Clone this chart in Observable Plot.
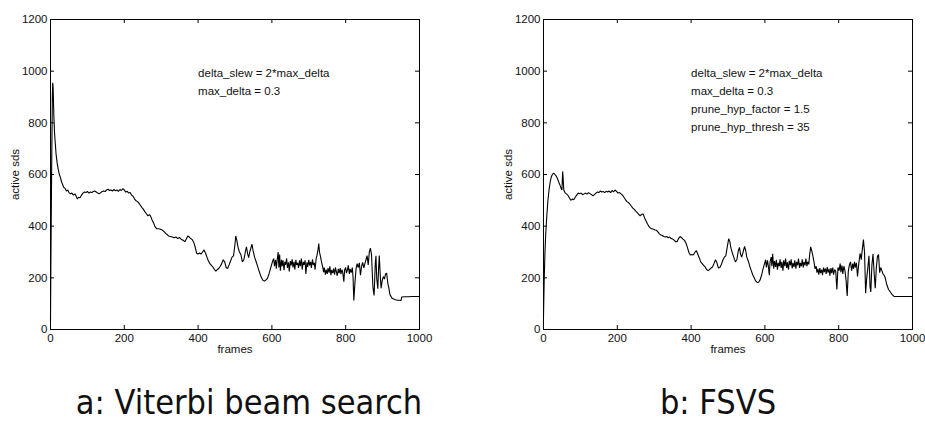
<!DOCTYPE html>
<html>
<head>
<meta charset="utf-8">
<script src="https://cdn.jsdelivr.net/npm/d3@7"></script>
<script src="https://cdn.jsdelivr.net/npm/@observablehq/plot@0.6"></script>
<style>
  html, body { margin: 0; padding: 0; background: #fff; }
  #page { position: relative; width: 925px; height: 421px; overflow: hidden; background: #fff; }
  #row { display: flex; flex-direction: row; }
  .cap { position: absolute; top: 385px; font-family: "DejaVu Sans Condensed", "DejaVu Sans", sans-serif; font-stretch: condensed; font-weight: 300; font-size: 34px; line-height: 1; color: #111; white-space: nowrap; transform: translateX(-50%); }
</style>
</head>
<body>
<div id="page">
  <div id="row"></div>
</div>
<script>
// ---- data ----
const xTicks = [0, 200, 400, 600, 800, 1000];
const yTicks = [0, 200, 400, 600, 800, 1000, 1200];
const xLabel = "frames";
const yLabel = "active sds";
const captions = ["a: Viterbi beam search", "b: FSVS"];
const viterbiParams = ["delta_slew = 2*max_delta", "max_delta = 0.3"];
const fsvsParams = ["delta_slew = 2*max_delta", "max_delta = 0.3", "prune_hyp_factor = 1.5", "prune_hyp_thresh = 35"];

const viterbiFrames = [0,1,3,5,6,7,9,11,13,15,18,21,24,27,30,33,36,40,43,47,50,54,58,62,66,70,73,76,80,84,88,92,96,100,104,108,112,116,120,124,128,132,136,140,144,148,152,156,160,164,168,172,176,180,184,188,192,196,200,204,208,212,216,220,224,228,232,236,240,244,248,252,256,260,264,268,271,275,280,284,288,293,298,303,307,312,316,320,325,330,335,340,345,350,355,360,364,368,372,376,380,384,388,392,396,400,404,408,412,416,420,424,428,432,436,440,444,448,452,456,460,464,468,472,476,480,484,488,492,496,500,502,505,508,512,516,520,524,528,531,534,537,540,544,546,549,553,556,560,564,568,572,576,580,584,588,592,596,600,603,
605,607,610,612,614,617,619,621,623,626,628,630,633,635,637,640,642,645,647,650,652,655,657,660,662,665,667,670,672,675,677,680,682,685,687,690,692,695,697,700,702,705,707,710,712,715,717,720,722,725,727,729,732,735,738,
740,742,745,747,750,752,755,757,760,762,765,767,770,772,775,777,780,782,785,787,790,792,795,797,800,802,805,807,810,812,815,818,820,822,825,828,831,834,837,840,843,846,849,852,855,858,861,864,867,870,872,874,877,880,882,884,887,889,891,894,896,899,902,905,908,911,914,917,920,925,930,935,940,945,950,952,960,970,980,990,1000];
const viterbiSds = [30,250,600,900,955,940,830,760,720,680,645,620,600,588,572,560,550,545,536,540,530,525,528,520,525,515,505,512,510,520,528,532,530,535,528,532,530,534,536,532,528,525,530,534,536,534,540,543,538,540,536,542,537,540,535,542,538,545,540,532,535,528,530,520,515,505,498,495,488,480,472,465,455,448,440,445,440,425,410,396,390,390,388,385,380,372,368,362,360,358,355,358,352,356,348,345,340,350,362,358,352,348,338,320,295,292,296,292,300,308,296,280,265,255,248,242,233,226,232,236,245,255,270,262,240,236,250,265,280,285,330,362,345,320,300,290,262,270,300,320,295,278,300,320,330,305,280,268,250,232,215,200,190,188,192,198,215,235,255,268,
275,245,270,235,265,300,240,290,228,270,245,268,230,262,250,275,238,260,225,265,248,272,240,262,232,270,250,258,238,268,245,275,232,262,250,268,215,260,242,270,248,262,238,272,250,258,232,275,285,310,333,300,280,258,240,
222,240,212,232,215,238,220,245,210,230,218,236,212,240,222,208,235,218,238,214,232,220,185,230,240,218,232,248,215,235,220,240,200,112,180,235,255,240,258,210,245,260,238,255,270,286,250,300,315,290,220,160,132,250,285,200,158,230,286,200,160,190,205,195,215,218,180,160,135,122,118,115,113,113,112,126,127,127,128,128,128];

const fsvsFrames = [0,2,4,6,9,12,15,18,21,24,27,30,33,36,39,42,45,48,50,51,52,53,55,58,62,66,70,74,78,82,86,90,94,98,102,106,110,114,118,122,126,130,134,138,142,146,150,154,158,162,166,170,174,178,182,186,190,194,198,202,206,210,214,218,222,226,230,234,238,242,246,250,254,258,262,266,270,274,278,282,286,290,294,298,302,306,310,314,318,322,326,330,334,338,342,346,350,354,358,362,366,370,374,378,382,386,390,394,398,402,406,410,414,418,422,426,430,434,438,442,446,450,454,458,462,466,470,474,478,482,486,490,494,498,502,505,508,512,516,520,524,528,531,534,537,541,545,548,551,555,559,563,567,571,575,579,583,587,591,595,599,602,
604,607,609,612,614,617,619,621,624,626,629,631,634,636,639,641,644,646,649,651,654,656,659,661,664,666,669,671,674,676,679,681,684,686,689,691,694,696,699,701,704,706,709,711,714,716,719,721,724,727,730,733,736,
739,741,744,746,749,751,754,756,759,761,764,766,769,771,774,776,779,781,784,786,789,792,795,798,801,804,806,809,811,814,817,820,823,826,829,832,835,838,840,843,845,848,851,854,858,861,864,867,870,873,876,879,882,885,887,890,893,896,899,902,905,908,911,914,917,920,923,926,930,935,940,945,950,960,970,980,990,1000];
const fsvsSds = [48,200,300,370,440,500,540,570,590,600,605,602,597,590,580,568,558,545,540,580,612,590,540,530,525,520,510,500,505,502,512,520,528,525,528,522,525,528,524,530,526,522,518,522,528,532,530,536,532,534,530,535,532,536,530,538,533,540,535,528,530,525,520,512,503,495,492,485,478,470,465,458,452,446,440,446,447,432,420,408,398,392,390,388,385,384,378,370,366,364,360,358,360,355,358,352,350,346,340,340,352,360,356,350,345,335,318,298,288,290,288,298,306,292,278,262,255,248,242,232,228,232,238,242,255,270,258,238,240,252,268,280,285,320,352,340,315,295,278,262,270,305,318,292,280,300,322,305,280,265,245,228,212,200,188,182,183,192,210,235,255,270,
240,268,248,210,262,280,245,293,235,265,242,270,232,258,245,272,238,262,228,268,245,275,238,260,232,266,248,272,236,258,242,268,235,262,248,275,238,258,245,272,240,262,248,275,245,262,252,285,320,305,285,262,235,
245,220,235,212,238,218,232,210,240,222,236,215,242,220,235,208,238,218,240,212,232,225,155,240,228,255,222,248,215,245,228,190,130,225,250,262,228,255,235,262,240,258,205,250,295,270,310,348,300,140,200,240,285,165,145,250,292,220,160,240,283,290,220,240,228,215,210,200,175,155,145,135,128,128,128,128,128,128];

// ---- drawing ----
const H = 365, MT = 19, MB = 36;
const tickLen = 4;
const fmt = d => String(d);

function panel(frames, sds, params, width, marginLeft, marginRight) {
  const data = frames.map((f, i) => ({frame: f, sds: sds[i]}));
  const fw = width - marginLeft - marginRight;
  const fh = H - MT - MB;
  return Plot.plot({
    width, height: H, marginLeft, marginRight, marginTop: MT, marginBottom: MB,
    x: {domain: [0, 1000]},
    y: {domain: [0, 1200]},
    style: {fontFamily: "'Liberation Sans', Arial, Helvetica, sans-serif", fontSize: "11.5px", color: "#000", background: "#fff", overflow: "visible"},
    marks: [
      Plot.axisX(xTicks, {tickSize: 0, tickPadding: 4, tickFormat: fmt, label: null, fontSize: 11.5, fill: "#111"}),
      Plot.axisY(yTicks, {tickSize: 0, tickPadding: 3, tickFormat: fmt, label: null, fontSize: 11.5, fill: "#111"}),
      Plot.tickX(xTicks, {x: d => d, insetTop: fh - tickLen, stroke: "#000", strokeWidth: 1}),
      Plot.tickX(xTicks, {x: d => d, insetBottom: fh - tickLen, stroke: "#000", strokeWidth: 1}),
      Plot.tickY(yTicks, {y: d => d, insetRight: fw - tickLen, stroke: "#000", strokeWidth: 1}),
      Plot.tickY(yTicks, {y: d => d, insetLeft: fw - tickLen, stroke: "#000", strokeWidth: 1}),
      Plot.line(data, {x: "frame", y: "sds", stroke: "#000", strokeWidth: 1.1, strokeLinejoin: "miter"}),
      Plot.frame({stroke: "#000", strokeWidth: 1}),
      Plot.text([params.join("\n")], {x: () => 400, y: () => 1000, text: d => d, textAnchor: "start", lineAnchor: "top", dy: -7, lineHeight: 1.565, fontSize: 11.5, fill: "#111"}),
      Plot.text([xLabel], {text: d => d, frameAnchor: "bottom", lineAnchor: "top", dy: 15, fontSize: 11.5, fill: "#111"}),
      Plot.text([yLabel], {text: d => d, frameAnchor: "left", textAnchor: "middle", rotate: -90, dx: -35, fontSize: 11.5, fill: "#111"})
    ]
  });
}

const row = document.getElementById("row");
row.appendChild(panel(viterbiFrames, viterbiSds, viterbiParams, 462, 50, 43));
row.appendChild(panel(fsvsFrames, fsvsSds, fsvsParams, 463, 81, 13));

const page = document.getElementById("page");
const capX = [249, 718];
captions.forEach((c, i) => {
  const d = document.createElement("div");
  d.className = "cap";
  d.textContent = c;
  d.style.left = capX[i] + "px";
  page.appendChild(d);
});
</script>
</body>
</html>
